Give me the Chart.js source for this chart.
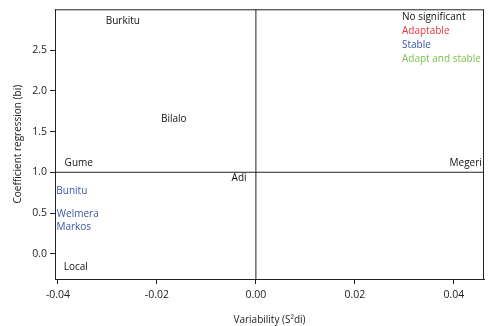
<!DOCTYPE html>
<html>
<head>
<meta charset="utf-8">
<script src="https://cdn.jsdelivr.net/npm/chart.js@4"></script>
<style>
  html, body { margin: 0; padding: 0; background: #fff; }
  #wrap { width: 489px; height: 326px; }
</style>
</head>
<body>
<div id="wrap"><canvas id="stabilityChart"></canvas></div>
<script>
// genotypes, variability (S2di) and regression coefficient (bi)
const genotypes = ['Burkitu', 'Bilalo', 'Gume', 'Megeri', 'Adi', 'Bunitu', 'Welmera', 'Markos', 'Local'];
const s2di = [-0.0269, -0.0166, -0.0358, 0.0424, -0.0034, -0.0372, -0.0360, -0.0368, -0.0364];
const bi = [2.86, 1.65, 1.11, 1.11, 0.93, 0.77, 0.49, 0.33, -0.17];
const groups = ['none', 'none', 'none', 'none', 'none', 'stable', 'stable', 'stable', 'none'];

const groupNames = ['No significant', 'Adaptable', 'Stable', 'Adapt and stable'];
const groupKeys = ['none', 'adaptable', 'stable', 'both'];
const groupColors = { none: '#111111', adaptable: '#e8343c', stable: '#3b55a6', both: '#7cc24f' };

const xTicks = [-0.04, -0.02, 0.00, 0.02, 0.04];
const yTicks = [0.0, 0.5, 1.0, 1.5, 2.0, 2.5];
const xMin = -0.0406, xMax = 0.0461;
const yMin = -0.31, yMax = 3.0;

const font = "'Open Sans', 'Noto Sans', sans-serif";

let labelPlugin = {
    id: 'labelPlugin',
    afterDatasetsDraw(chart) {
        const ctx = chart.ctx;
        const xs = chart.scales.x, ys = chart.scales.y;
        const area = chart.chartArea;
        ctx.save();
        // frame
        ctx.strokeStyle = '#222';
        ctx.lineWidth = 1;
        ctx.strokeRect(area.left + 0.5, area.top + 0.5, area.right - area.left - 1, area.bottom - area.top);
        // genotype names
        ctx.font = '10px ' + font;
        ctx.textAlign = 'center';
        ctx.textBaseline = 'middle';
        genotypes.forEach((g, i) => {
            ctx.fillStyle = groupColors[groups[i]];
            ctx.fillText(g, xs.getPixelForValue(s2di[i]), ys.getPixelForValue(bi[i]));
        });
        // group key
        ctx.textAlign = 'left';
        groupNames.forEach((name, i) => {
            ctx.fillStyle = groupColors[groupKeys[i]];
            ctx.fillText(name, area.right - 82, area.top + 8 + i * 14);
        });
        ctx.restore();
    }
};

let ctx = document.getElementById('stabilityChart').getContext('2d');

new Chart(ctx, {
    type: 'scatter',
    data: {
        datasets: [
            {
                label: 'Genotypes',
                data: genotypes.map((g, i) => ({ x: s2di[i], y: bi[i] })),
                pointRadius: 0,
                pointHoverRadius: 0
            },
            {
                label: 'bi = 1',
                data: [{ x: xMin, y: 1 }, { x: xMax, y: 1 }],
                showLine: true,
                borderColor: '#222',
                borderWidth: 1,
                pointRadius: 0
            },
            {
                label: 'S2di = 0',
                data: [{ x: 0, y: yMin }, { x: 0, y: yMax }],
                showLine: true,
                borderColor: '#222',
                borderWidth: 1,
                pointRadius: 0
            }
        ]
    },
    options: {
        responsive: true,
        maintainAspectRatio: false,
        animation: false,
        layout: { padding: { top: 3, right: 5, left: 0, bottom: 0 } },
        plugins: {
            legend: { display: false },
            tooltip: { enabled: false }
        },
        scales: {
            x: {
                type: 'linear',
                min: xMin,
                max: xMax,
                afterBuildTicks: axis => { axis.ticks = xTicks.map(v => ({ value: v })); },
                afterFit: axis => { axis.height = 47; },
                grid: { drawOnChartArea: false, tickLength: 5, color: '#222', tickColor: '#222' },
                border: { color: '#222' },
                ticks: {
                    color: '#222',
                    padding: 5,
                    font: { family: font, size: 10.5 },
                    maxRotation: 0,
                    callback: v => v.toFixed(2)
                },
                title: {
                    display: true,
                    text: 'Variability (S\u00b2di)',
                    color: '#222',
                    font: { family: font, size: 10 },
                    padding: { top: 4, bottom: 0 }
                }
            },
            y: {
                type: 'linear',
                min: yMin,
                max: yMax,
                afterBuildTicks: axis => { axis.ticks = yTicks.map(v => ({ value: v })); },
                afterFit: axis => { axis.width = 55; },
                grid: { drawOnChartArea: false, tickLength: 5, color: '#222', tickColor: '#222' },
                border: { color: '#222' },
                ticks: {
                    color: '#222',
                    padding: 3,
                    font: { family: font, size: 10.5 },
                    callback: v => v.toFixed(1)
                },
                title: {
                    display: true,
                    text: 'Coefficient regression (bi)',
                    color: '#222',
                    font: { family: font, size: 10 },
                    padding: { top: 12, bottom: 0 }
                }
            }
        }
    },
    plugins: [labelPlugin]
});
</script>
</body>
</html>
